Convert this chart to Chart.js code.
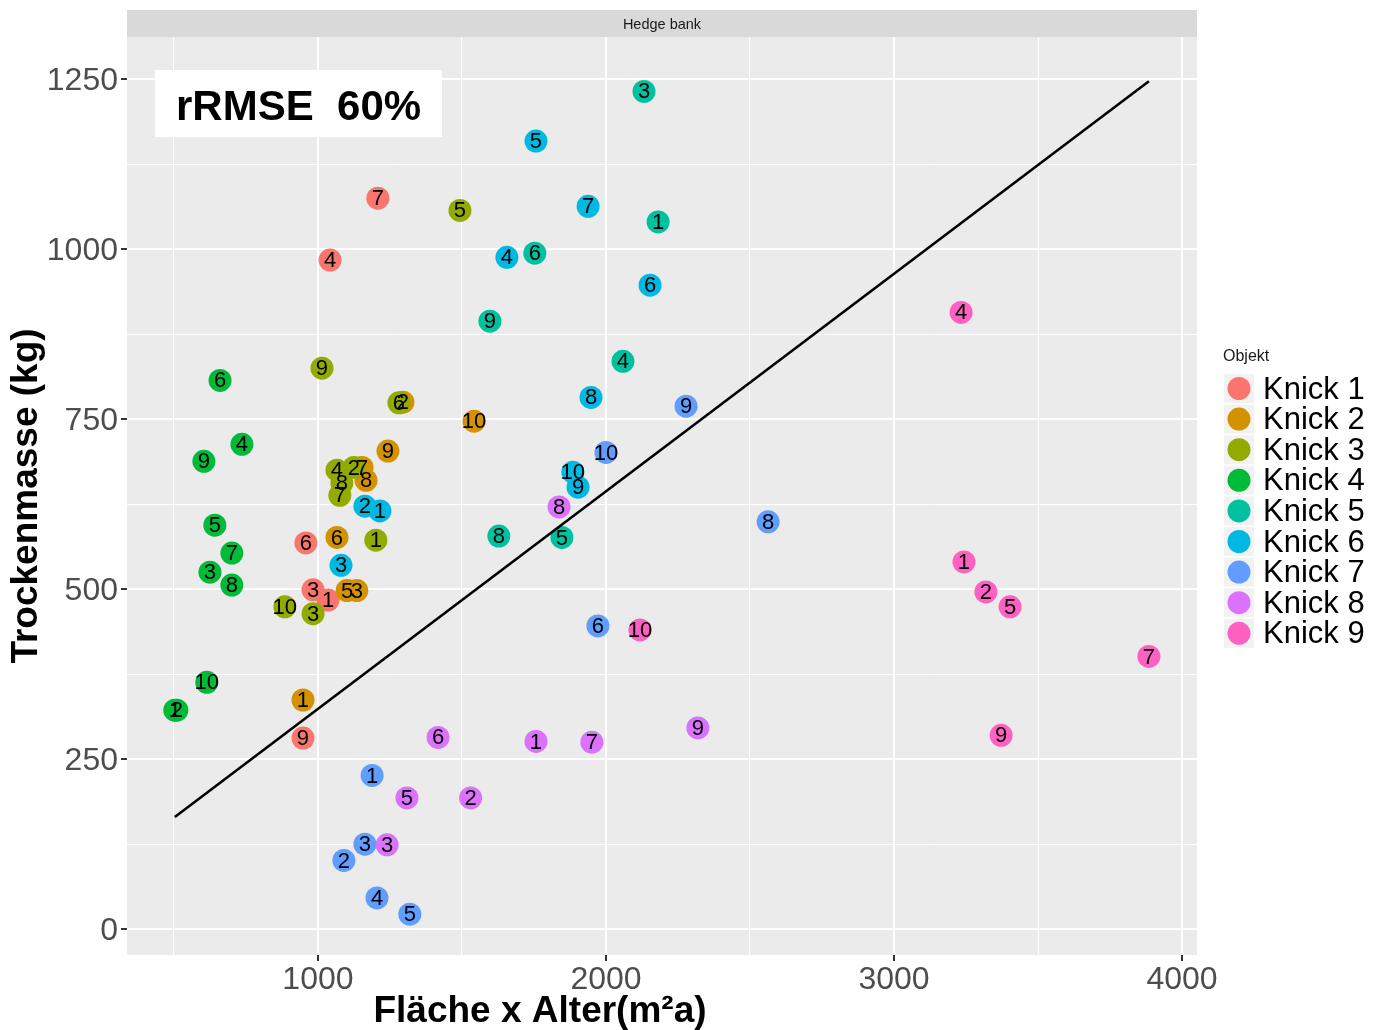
<!DOCTYPE html>
<html>
<head>
<meta charset="utf-8">
<script src="https://cdn.jsdelivr.net/npm/chart.js@4.4.0/dist/chart.umd.min.js"></script>
<style>
  html, body { margin: 0; padding: 0; background: #fff; }
  canvas { display: block; }
</style>
</head>
<body>
<canvas id="chart" width="1379" height="1030"></canvas>
<script>
// Trockenmasse vs. Fläche x Alter, Hedge bank, points labelled by sample number
const stripTitle = 'Hedge bank';
const knickNames = ['Knick 1', 'Knick 2', 'Knick 3', 'Knick 4', 'Knick 5', 'Knick 6', 'Knick 7', 'Knick 8', 'Knick 9'];
const knickColors = ['#F8766D', '#D39200', '#93AA00', '#00BA38', '#00C19F', '#00B9E3', '#619CFF', '#DB72FB', '#FF61C3'];

const knick1Nr = [7, 4, 6, 3, 1, 9];
const knick1X = [1208, 1042, 958, 983, 1035, 948];
const knick1Y = [1075, 984, 568, 499, 484, 281];

const knick2Nr = [2, 10, 9, 7, 8, 6, 5, 3, 1];
const knick2X = [1295, 1542, 1243, 1153, 1167, 1066, 1101, 1135, 948];
const knick2Y = [775, 747, 703, 679, 660, 576, 498, 498, 337];

const knick3Nr = [5, 9, 6, 4, 2, 8, 7, 1, 10, 3];
const knick3X = [1493, 1014, 1281, 1066, 1125, 1083, 1076, 1201, 885, 983];
const knick3Y = [1057, 825, 774, 675, 679, 656, 638, 572, 474, 464];

const knick4Nr = [6, 4, 9, 5, 7, 3, 8, 10, 1, 2];
const knick4X = [660, 736, 604, 642, 701, 625, 701, 614, 503, 510];
const knick4Y = [807, 713, 688, 594, 553, 525, 506, 363, 322, 322];

const knick5Nr = [3, 1, 6, 9, 4, 8, 5];
const knick5X = [2132, 2181, 1753, 1597, 2059, 1628, 1847];
const knick5Y = [1232, 1040, 994, 894, 835, 578, 576];

const knick6Nr = [5, 7, 4, 6, 8, 10, 9, 2, 1, 3];
const knick6X = [1757, 1938, 1656, 2153, 1948, 1885, 1903, 1163, 1215, 1080];
const knick6Y = [1159, 1063, 988, 947, 782, 672, 650, 622, 615, 535];

const knick7Nr = [9, 10, 8, 6, 1, 3, 2, 4, 5];
const knick7X = [2278, 2000, 2563, 1972, 1188, 1163, 1090, 1205, 1319];
const knick7Y = [769, 701, 599, 446, 226, 125, 101, 46, 22];

const knick8Nr = [8, 6, 1, 7, 9, 2, 5, 3];
const knick8X = [1837, 1417, 1757, 1951, 2319, 1530, 1309, 1240];
const knick8Y = [621, 282, 276, 275, 296, 193, 193, 124];

const knick9Nr = [4, 1, 2, 5, 10, 7, 9];
const knick9X = [3233, 3243, 3319, 3403, 2118, 3885, 3372];
const knick9Y = [907, 540, 496, 474, 440, 401, 285];

// fitted reference line
const fitX = [503, 3885];
const fitY = [165, 1247];

// labelled breaks and the minor breaks between them
const xTicks = [1000, 2000, 3000, 4000];
const xMinor = [500, 1500, 2500, 3500];
const yTicks = [0, 250, 500, 750, 1000, 1250];
const yMinor = [125, 375, 625, 875, 1125];
const rrmseText = 'rRMSE  60%';

const knickNr = [knick1Nr, knick2Nr, knick3Nr, knick4Nr, knick5Nr, knick6Nr, knick7Nr, knick8Nr, knick9Nr];
const knickX = [knick1X, knick2X, knick3X, knick4X, knick5X, knick6X, knick7X, knick8X, knick9X];
const knickY = [knick1Y, knick2Y, knick3Y, knick4Y, knick5Y, knick6Y, knick7Y, knick8Y, knick9Y];

const FONT = '"Liberation Sans", Arial, sans-serif';

const datasets = knickNames.map((name, i) => ({
  type: 'scatter',
  label: name,
  data: knickX[i].map((x, j) => ({ x: x, y: knickY[i][j] })),
  backgroundColor: knickColors[i],
  borderWidth: 0,
  pointRadius: 11.5,
  pointHoverRadius: 11.5,
  order: 10 - i
}));

datasets.push({
  type: 'line',
  label: 'fit',
  data: fitX.map((x, j) => ({ x: x, y: fitY[j] })),
  borderColor: '#000000',
  borderWidth: 2.6,
  pointRadius: 0,
  fill: false,
  order: 0
});

const isMajor = (ctx, list) => ctx.tick && list.includes(ctx.tick.value);
const setTicks = (major, minor) => scale => {
  scale.ticks = major.concat(minor).sort((a, b) => a - b).map(v => ({ value: v }));
};

const ggplotLook = {
  id: 'ggplotLook',
  beforeDraw(chart) {
    const { ctx, chartArea: a } = chart;
    ctx.save();
    ctx.fillStyle = '#ffffff';
    ctx.fillRect(0, 0, chart.width, chart.height);
    ctx.fillStyle = '#ebebeb';
    ctx.fillRect(a.left, a.top, a.right - a.left, a.bottom - a.top);
    // facet strip
    ctx.fillStyle = '#d9d9d9';
    ctx.fillRect(a.left, 10, a.right - a.left, a.top - 10);
    ctx.fillStyle = '#1a1a1a';
    ctx.font = '14.5px ' + FONT;
    ctx.textAlign = 'center';
    ctx.textBaseline = 'middle';
    ctx.fillText(stripTitle, (a.left + a.right) / 2, (10 + a.top) / 2 + 1);
    ctx.restore();
  },
  afterDatasetsDraw(chart) {
    const ctx = chart.ctx;
    ctx.save();
    ctx.font = '22px ' + FONT;
    ctx.fillStyle = '#000000';
    ctx.textAlign = 'center';
    ctx.textBaseline = 'middle';
    knickNr.forEach((nrs, i) => {
      chart.getDatasetMeta(i).data.forEach((pt, j) => {
        ctx.fillText(String(nrs[j]), pt.x, pt.y + 1);
      });
    });
    ctx.restore();
  },
  afterDraw(chart) {
    const { ctx, chartArea: a } = chart;
    ctx.save();

    // rRMSE label box
    ctx.fillStyle = '#ffffff';
    ctx.fillRect(a.left + 28, a.top + 33, 287, 67);
    ctx.fillStyle = '#000000';
    ctx.font = 'bold 42px ' + FONT;
    ctx.textAlign = 'left';
    ctx.textBaseline = 'alphabetic';
    ctx.fillText(rrmseText, a.left + 49, a.top + 83);

    // axis titles
    ctx.font = 'bold 37px ' + FONT;
    ctx.textAlign = 'center';
    ctx.textBaseline = 'middle';
    ctx.fillText('Fläche x Alter(m²a)', 540, 1012);
    ctx.translate(27, (a.top + a.bottom) / 2);
    ctx.rotate(-Math.PI / 2);
    ctx.fillText('Trockenmasse (kg)', 0, 0);
    ctx.setTransform(1, 0, 0, 1, 0, 0);

    // legend
    const lx = 1224;
    const top0 = 374;
    const rowH = 30.6;
    ctx.font = '16px ' + FONT;
    ctx.fillStyle = '#1a1a1a';
    ctx.textAlign = 'left';
    ctx.fillText('Objekt', 1223, 357);
    knickNames.forEach((name, i) => {
      const ty = top0 + i * rowH;
      ctx.fillStyle = '#f2f2f2';
      ctx.fillRect(lx, ty, 30, 29);
      ctx.fillStyle = knickColors[i];
      ctx.beginPath();
      ctx.arc(lx + 15, ty + 14.5, 11.5, 0, Math.PI * 2);
      ctx.fill();
      ctx.fillStyle = '#000000';
      ctx.font = '31px ' + FONT;
      ctx.fillText(name, 1263, ty + 16);
    });
    ctx.restore();
  }
};

new Chart(document.getElementById('chart'), {
  data: { datasets: datasets },
  options: {
    responsive: false,
    devicePixelRatio: 1,
    animation: false,
    events: [],
    layout: { padding: { left: 0, top: 37, right: 182, bottom: 0 } },
    plugins: {
      legend: { display: false },
      tooltip: { enabled: false }
    },
    scales: {
      x: {
        type: 'linear',
        min: 337,
        max: 4052,
        border: { display: false },
        afterBuildTicks: setTicks(xTicks, xMinor),
        afterFit(scale) { scale.height = 75; },
        grid: {
          color: '#ffffff',
          lineWidth: ctx => isMajor(ctx, xTicks) ? 2 : 1,
          drawTicks: true,
          tickLength: 6,
          tickWidth: 2,
          tickColor: ctx => isMajor(ctx, xTicks) ? '#333333' : 'rgba(0,0,0,0)'
        },
        ticks: {
          autoSkip: false,
          maxRotation: 0,
          padding: 0,
          color: '#4d4d4d',
          font: { family: FONT, size: 32 },
          callback: v => xTicks.includes(v) ? String(v) : ''
        }
      },
      y: {
        type: 'linear',
        min: -38,
        max: 1312,
        border: { display: false },
        afterBuildTicks: setTicks(yTicks, yMinor),
        afterFit(scale) { scale.width = 127; },
        grid: {
          color: '#ffffff',
          lineWidth: ctx => isMajor(ctx, yTicks) ? 2 : 1,
          drawTicks: true,
          tickLength: 6,
          tickWidth: 2,
          tickColor: ctx => isMajor(ctx, yTicks) ? '#333333' : 'rgba(0,0,0,0)'
        },
        ticks: {
          autoSkip: false,
          padding: 3,
          labelOffset: 2,
          color: '#4d4d4d',
          font: { family: FONT, size: 32 },
          callback: v => yTicks.includes(v) ? String(v) : ''
        }
      }
    }
  },
  plugins: [ggplotLook]
});
</script>
</body>
</html>
